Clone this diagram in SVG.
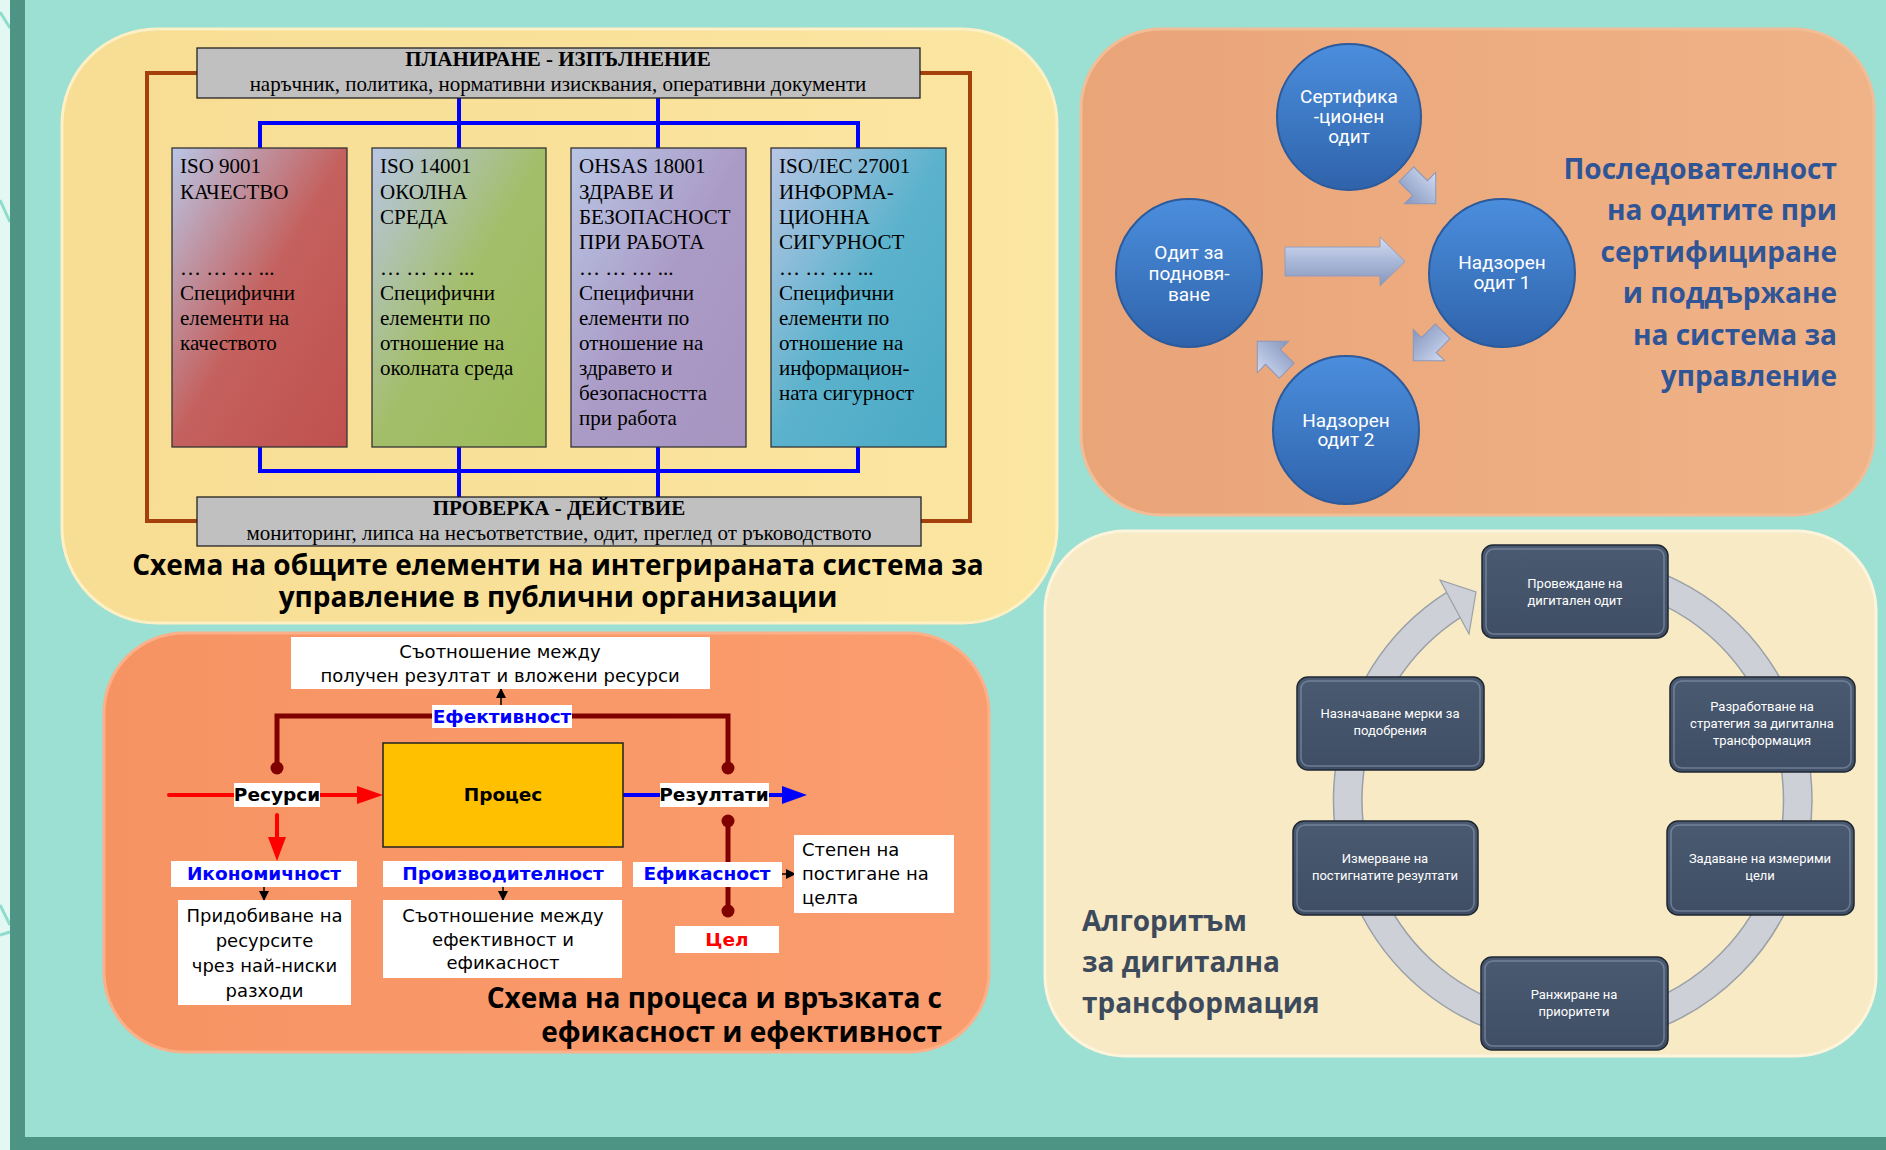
<svg xmlns="http://www.w3.org/2000/svg" width="1886" height="1150" viewBox="0 0 1886 1150">
<style>
.serif{font-family:"Liberation Serif","Times New Roman",serif;fill:#000}
.bx{font-size:21px}
.hd{font-family:"Open Sans","Noto Sans",sans-serif;font-weight:bold}
.tah{font-family:"DejaVu Sans","Noto Sans",sans-serif}
.lbl{font-family:"DejaVu Sans","Noto Sans",sans-serif;font-weight:bold;font-size:18.5px}
.wbox{fill:#fff}
.circ{font-family:Roboto,"Noto Sans",sans-serif;font-size:19px;fill:#fff;text-anchor:middle}
.dtx{font-family:Roboto,"Noto Sans",sans-serif;font-size:13px;fill:#fff;text-anchor:middle}
.blue{stroke:#0000ff;stroke-width:4;fill:none}
.brown{stroke:#a3400b;stroke-width:4;fill:none}
.dbox{fill:url(#gDark);stroke:#1f2733;stroke-width:1.5}
.dhi{fill:none;stroke:#93a3ba;stroke-width:1.5;opacity:0.55}
</style>
<defs>
<linearGradient id="gRed" x1="0" y1="0" x2="1" y2="1"><stop offset="0" stop-color="#b9c6e6"/><stop offset="0.5" stop-color="#c4615e"/><stop offset="1" stop-color="#c0504d"/></linearGradient>
<linearGradient id="gGreen" x1="0" y1="0" x2="1" y2="1"><stop offset="0" stop-color="#b9c6e6"/><stop offset="0.5" stop-color="#a3be6a"/><stop offset="1" stop-color="#9bbb59"/></linearGradient>
<linearGradient id="gPurple" x1="0" y1="0" x2="1" y2="1"><stop offset="0" stop-color="#b9c6e6"/><stop offset="0.5" stop-color="#aa9bc6"/><stop offset="1" stop-color="#a794c0"/></linearGradient>
<linearGradient id="gTeal" x1="0" y1="0" x2="1" y2="1"><stop offset="0" stop-color="#b9c6e6"/><stop offset="0.5" stop-color="#5bb2cc"/><stop offset="1" stop-color="#4aaac5"/></linearGradient>
<linearGradient id="gCirc" x1="0" y1="0" x2="0" y2="1"><stop offset="0" stop-color="#4b8edd"/><stop offset="1" stop-color="#2f63ab"/></linearGradient>
<linearGradient id="gArr" x1="0" y1="0" x2="0" y2="1"><stop offset="0" stop-color="#d3dcf0"/><stop offset="0.5" stop-color="#a9b7d8"/><stop offset="1" stop-color="#8796bc"/></linearGradient>
<linearGradient id="gDark" x1="0" y1="0" x2="0" y2="1"><stop offset="0" stop-color="#4a5a71"/><stop offset="1" stop-color="#3f4e64"/></linearGradient>
<linearGradient id="gP1" x1="0" y1="0" x2="1" y2="0"><stop offset="0" stop-color="#f8dd94"/><stop offset="0.5" stop-color="#f9e199"/><stop offset="1" stop-color="#fbe6a2"/></linearGradient>
<linearGradient id="gP2" x1="0" y1="0" x2="1" y2="0"><stop offset="0" stop-color="#e9a478"/><stop offset="0.5" stop-color="#edac80"/><stop offset="1" stop-color="#efb387"/></linearGradient>
<linearGradient id="gP3" x1="0" y1="0" x2="1" y2="0"><stop offset="0" stop-color="#f69363"/><stop offset="0.5" stop-color="#f99869"/><stop offset="1" stop-color="#fa9d6e"/></linearGradient>
<marker id="mb" viewBox="0 0 10 10" refX="9" refY="5" markerWidth="10" markerHeight="10" markerUnits="userSpaceOnUse" orient="auto"><path d="M0,0 L10,5 L0,10 Z" fill="#000"/></marker>
<path id="chev" d="M-16,-8 H-1 V-17 L16,0 L-1,17 V8 H-16 Z"/>
</defs>

<!-- background -->
<rect x="0" y="0" width="1886" height="1150" fill="#9cdfd3"/>
<rect x="0" y="0" width="10" height="1150" fill="#e3f8f3"/>
<path d="M0,12 L10,28 M0,200 L10,222 M0,905 L10,925 M0,935 L10,932" stroke="#8edccd" stroke-width="3"/>
<rect x="10" y="0" width="15" height="1150" fill="#4e9485"/>
<rect x="10" y="1137" width="1876" height="13" fill="#4e9485"/>

<!-- Panel 1 -->
<g id="panel1">
<rect x="62" y="29" width="995" height="594" rx="95" fill="url(#gP1)" stroke="#fdf0c4" stroke-width="3"/>
<g id="p1-connectors">
<path class="brown" d="M197,73 H147 V521 H197"/>
<path class="brown" d="M920,73 H970 V521 H921"/>
<path class="blue" d="M459,98 V148 M658,98 V148 M260,148 V123 H858 V148"/>
<path class="blue" d="M260,447 V471 H858 V447 M459,447 V497 M658,447 V497"/>
</g>
<g id="plan">
<rect x="197" y="48" width="723" height="50" fill="#c0c0c0" stroke="#222" stroke-width="1.3"/>
<text class="serif" x="558" y="66" font-size="21" font-weight="bold" text-anchor="middle">ПЛАНИРАНЕ - ИЗПЪЛНЕНИЕ</text>
<text class="serif" x="558" y="91" font-size="21" text-anchor="middle">наръчник, политика, нормативни изисквания, оперативни документи</text>
</g>
<g id="check">
<rect x="197" y="497" width="724" height="49" fill="#c0c0c0" stroke="#222" stroke-width="1.3"/>
<text class="serif" x="559" y="515" font-size="21" font-weight="bold" text-anchor="middle">ПРОВЕРКА - ДЕЙСТВИЕ</text>
<text class="serif" x="559" y="540" font-size="21" text-anchor="middle">мониторинг, липса на несъответствие, одит, преглед от ръководството</text>
</g>
<g id="iso9001">
<rect x="172" y="148" width="175" height="299" fill="url(#gRed)" stroke="#333" stroke-width="1.3"/>
<text class="serif bx" x="180"><tspan x="180" y="173">ISO 9001</tspan><tspan x="180" y="199">КАЧЕСТВО</tspan><tspan x="180" y="275">… … … ...</tspan><tspan x="180" y="300">Специфични</tspan><tspan x="180" y="325">елементи на</tspan><tspan x="180" y="350">качеството</tspan></text>
</g>
<g id="iso14001">
<rect x="372" y="148" width="174" height="299" fill="url(#gGreen)" stroke="#333" stroke-width="1.3"/>
<text class="serif bx" x="380"><tspan x="380" y="173">ISO 14001</tspan><tspan x="380" y="199">ОКОЛНА</tspan><tspan x="380" y="224">СРЕДА</tspan><tspan x="380" y="275">… … … ...</tspan><tspan x="380" y="300">Специфични</tspan><tspan x="380" y="325">елементи по</tspan><tspan x="380" y="350">отношение на</tspan><tspan x="380" y="375">околната среда</tspan></text>
</g>
<g id="ohsas">
<rect x="571" y="148" width="175" height="299" fill="url(#gPurple)" stroke="#333" stroke-width="1.3"/>
<text class="serif bx" x="579"><tspan x="579" y="173">OHSAS 18001</tspan><tspan x="579" y="199">ЗДРАВЕ И</tspan><tspan x="579" y="224">БЕЗОПАСНОСТ</tspan><tspan x="579" y="249">ПРИ РАБОТА</tspan><tspan x="579" y="275">… … … ...</tspan><tspan x="579" y="300">Специфични</tspan><tspan x="579" y="325">елементи по</tspan><tspan x="579" y="350">отношение на</tspan><tspan x="579" y="375">здравето и</tspan><tspan x="579" y="400">безопасността</tspan><tspan x="579" y="425">при работа</tspan></text>
</g>
<g id="iso27001">
<rect x="771" y="148" width="175" height="299" fill="url(#gTeal)" stroke="#333" stroke-width="1.3"/>
<text class="serif bx" x="779"><tspan x="779" y="173">ISO/IEC 27001</tspan><tspan x="779" y="199">ИНФОРМА-</tspan><tspan x="779" y="224">ЦИОННА</tspan><tspan x="779" y="249">СИГУРНОСТ</tspan><tspan x="779" y="275">… … … ...</tspan><tspan x="779" y="300">Специфични</tspan><tspan x="779" y="325">елементи по</tspan><tspan x="779" y="350">отношение на</tspan><tspan x="779" y="375">информацион-</tspan><tspan x="779" y="400">ната сигурност</tspan></text>
</g>
<text class="hd" x="558" y="575" font-size="28" text-anchor="middle" fill="#000">Схема на общите елементи на интегрираната система за</text>
<text class="hd" x="558" y="607" font-size="28" text-anchor="middle" fill="#000">управление в публични организации</text>
</g>

<!-- Panel 2 -->
<g id="panel2">
<rect x="1081" y="29" width="793" height="486" rx="80" fill="url(#gP2)" stroke="#f2bd96" stroke-width="3"/>
<g id="c-cert"><ellipse cx="1349" cy="117" rx="72" ry="73" fill="url(#gCirc)" stroke="#2c5a9a" stroke-width="2"/>
<text class="circ"><tspan x="1349" y="103">Сертифика</tspan><tspan x="1349" y="123">-ционен</tspan><tspan x="1349" y="143">одит</tspan></text></g>
<g id="c-renew"><ellipse cx="1189" cy="273" rx="73" ry="74" fill="url(#gCirc)" stroke="#2c5a9a" stroke-width="2"/>
<text class="circ"><tspan x="1189" y="259">Одит за</tspan><tspan x="1189" y="280">подновя-</tspan><tspan x="1189" y="301">ване</tspan></text></g>
<g id="c-sup1"><ellipse cx="1502" cy="273" rx="73" ry="74" fill="url(#gCirc)" stroke="#2c5a9a" stroke-width="2"/>
<text class="circ"><tspan x="1502" y="269">Надзорен</tspan><tspan x="1502" y="289">одит 1</tspan></text></g>
<g id="c-sup2"><ellipse cx="1346" cy="430" rx="73" ry="74" fill="url(#gCirc)" stroke="#2c5a9a" stroke-width="2"/>
<text class="circ"><tspan x="1346" y="427">Надзорен</tspan><tspan x="1346" y="446">одит 2</tspan></text></g>
<g id="p2-arrows" fill="url(#gArr)" stroke="#8a98bd" stroke-width="0.8">
<path d="M1285,247 H1380 V237 L1405,261.5 L1380,286 V276 H1285 Z"/>
<use href="#chev" transform="translate(1421,189) rotate(45) scale(1.3)"/>
<use href="#chev" transform="translate(1428,346) rotate(135) scale(1.3)"/>
<use href="#chev" transform="translate(1272,356) rotate(-135) scale(1.3)"/>
</g>
<text class="hd" font-size="28" fill="#2f5597" text-anchor="end"><tspan x="1837" y="179">Последователност</tspan><tspan x="1837" y="220">на одитите при</tspan><tspan x="1837" y="262">сертифициране</tspan><tspan x="1837" y="303">и поддържане</tspan><tspan x="1837" y="345">на система за</tspan><tspan x="1837" y="386">управление</tspan></text>
</g>

<!-- Panel 3 -->
<g id="panel3">
<rect x="104" y="633" width="885" height="419" rx="80" fill="url(#gP3)" stroke="#fbb08a" stroke-width="3"/>
<g id="p3-connectors">
<path d="M277,768 V716 H728 V768" stroke="#800000" stroke-width="5" fill="none"/>
<line x1="728" y1="821" x2="728" y2="911" stroke="#800000" stroke-width="5"/>
<circle cx="277" cy="768" r="6.5" fill="#800000"/>
<circle cx="728" cy="768" r="6.5" fill="#800000"/>
<circle cx="728" cy="821" r="6.5" fill="#800000"/>
<circle cx="728" cy="911" r="6.5" fill="#800000"/>
<line x1="169" y1="795" x2="358" y2="795" stroke="#ff0000" stroke-width="4" stroke-linecap="round"/>
<path d="M357,786 L383,795 L357,804 Z" fill="#ff0000"/>
<line x1="277" y1="815" x2="277" y2="839" stroke="#ff0000" stroke-width="4" stroke-linecap="round"/>
<path d="M268,837 L277,861 L286,837 Z" fill="#ff0000"/>
<line x1="623" y1="795" x2="783" y2="795" stroke="#0000ff" stroke-width="4"/>
<path d="M782,786 L807,795 L782,804 Z" fill="#0000ff"/>
<line x1="501" y1="705" x2="501" y2="689" stroke="#000" stroke-width="1.5" marker-end="url(#mb)"/>
<line x1="782" y1="874" x2="795" y2="874" stroke="#000" stroke-width="1.5" marker-end="url(#mb)"/>
<line x1="264" y1="887" x2="264" y2="900" stroke="#000" stroke-width="1.5" marker-end="url(#mb)"/>
<line x1="503" y1="887" x2="503" y2="900" stroke="#000" stroke-width="1.5" marker-end="url(#mb)"/>
</g>
<g id="n-ratio"><rect class="wbox" x="291" y="637" width="419" height="52"/>
<text class="tah" font-size="18" text-anchor="middle"><tspan x="500" y="658">Съотношение между</tspan><tspan x="500" y="682">получен резултат и вложени ресурси</tspan></text></g>
<g id="n-eff"><rect class="wbox" x="432" y="705" width="140" height="23"/><text class="lbl" x="502" y="723" fill="#0000ff" text-anchor="middle">Ефективност</text></g>
<g id="n-res"><rect class="wbox" x="234" y="783" width="86" height="24"/><text class="lbl" x="277" y="801" text-anchor="middle">Ресурси</text></g>
<g id="n-proc"><rect x="383" y="743" width="240" height="104" fill="#ffc000" stroke="#222" stroke-width="1.5"/><text class="lbl" x="503" y="801" text-anchor="middle">Процес</text></g>
<g id="n-results"><rect class="wbox" x="660" y="783" width="109" height="24"/><text class="lbl" x="714" y="801" text-anchor="middle">Резултати</text></g>
<g id="n-econ"><rect class="wbox" x="171" y="861" width="186" height="26"/><text class="lbl" x="264" y="880" fill="#0000ff" text-anchor="middle">Икономичност</text></g>
<g id="n-prod"><rect class="wbox" x="383" y="861" width="239" height="26"/><text class="lbl" x="503" y="880" fill="#0000ff" text-anchor="middle">Производителност</text></g>
<g id="n-effic"><rect class="wbox" x="633" y="862" width="149" height="25"/><text class="lbl" x="707" y="880" fill="#0000ff" text-anchor="middle">Ефикасност</text></g>
<g id="n-degree"><rect class="wbox" x="794" y="835" width="160" height="78"/>
<text class="tah" font-size="18"><tspan x="802" y="856">Степен на</tspan><tspan x="802" y="880">постигане на</tspan><tspan x="802" y="904">целта</tspan></text></g>
<g id="n-goal"><rect class="wbox" x="675" y="926" width="104" height="27"/><text class="lbl" x="727" y="946" fill="#ff0000" text-anchor="middle">Цел</text></g>
<g id="n-acq"><rect class="wbox" x="178" y="900" width="173" height="105"/>
<text class="tah" font-size="18" text-anchor="middle"><tspan x="264.5" y="922">Придобиване на</tspan><tspan x="264.5" y="947">ресурсите</tspan><tspan x="264.5" y="972">чрез най-ниски</tspan><tspan x="264.5" y="997">разходи</tspan></text></g>
<g id="n-rel"><rect class="wbox" x="383" y="900" width="239" height="78"/>
<text class="tah" font-size="18" text-anchor="middle"><tspan x="503" y="922">Съотношение между</tspan><tspan x="503" y="946">ефективност и</tspan><tspan x="503" y="969">ефикасност</tspan></text></g>
<text class="hd" font-size="28" fill="#000" text-anchor="end"><tspan x="942" y="1008">Схема на процеса и връзката с</tspan><tspan x="942" y="1042">ефикасност и ефективност</tspan></text>
</g>

<!-- Panel 4 -->
<g id="panel4">
<rect x="1045" y="531" width="831" height="525" rx="80" fill="#f9eac6" stroke="#fdf4dc" stroke-width="3"/>
<g id="cycle">
<path d="M1455,604 A225 230 0 1 0 1573,570" fill="none" stroke="#9aa0a8" stroke-width="30"/>
<path d="M1455,604 A225 230 0 1 0 1573,570" fill="none" stroke="#cdd0d6" stroke-width="27"/>
<path d="M1440,580 L1476,592 L1469,634 Z" fill="#cdd0d6" stroke="#9aa0a8" stroke-width="1.2"/>
</g>
<g id="b-audit"><rect class="dbox" x="1482" y="545" width="186" height="93" rx="11"/><rect class="dhi" x="1486" y="549" width="178" height="85" rx="8"/>
<text class="dtx"><tspan x="1575" y="588">Провеждане на</tspan><tspan x="1575" y="605">дигитален одит</tspan></text></g>
<g id="b-strategy"><rect class="dbox" x="1670" y="677" width="185" height="95" rx="11"/><rect class="dhi" x="1674" y="681" width="177" height="87" rx="8"/>
<text class="dtx"><tspan x="1762" y="711">Разработване на</tspan><tspan x="1762" y="728">стратегия за дигитална</tspan><tspan x="1762" y="745">трансформация</tspan></text></g>
<g id="b-goals"><rect class="dbox" x="1667" y="821" width="187" height="94" rx="11"/><rect class="dhi" x="1671" y="825" width="179" height="86" rx="8"/>
<text class="dtx"><tspan x="1760" y="863">Задаване на измерими</tspan><tspan x="1760" y="880">цели</tspan></text></g>
<g id="b-rank"><rect class="dbox" x="1481" y="957" width="187" height="93" rx="11"/><rect class="dhi" x="1485" y="961" width="179" height="85" rx="8"/>
<text class="dtx"><tspan x="1574" y="999">Ранжиране на</tspan><tspan x="1574" y="1016">приоритети</tspan></text></g>
<g id="b-measure"><rect class="dbox" x="1293" y="821" width="185" height="94" rx="11"/><rect class="dhi" x="1297" y="825" width="177" height="86" rx="8"/>
<text class="dtx"><tspan x="1385" y="863">Измерване на</tspan><tspan x="1385" y="880">постигнатите резултати</tspan></text></g>
<g id="b-improve"><rect class="dbox" x="1297" y="677" width="187" height="93" rx="11"/><rect class="dhi" x="1301" y="681" width="179" height="85" rx="8"/>
<text class="dtx"><tspan x="1390" y="718">Назначаване мерки за</tspan><tspan x="1390" y="735">подобрения</tspan></text></g>
<text class="hd" font-size="28" fill="#3d4a5c"><tspan x="1082" y="931">Алгоритъм</tspan><tspan x="1082" y="972">за дигитална</tspan><tspan x="1082" y="1013">трансформация</tspan></text>
</g>
</svg>
